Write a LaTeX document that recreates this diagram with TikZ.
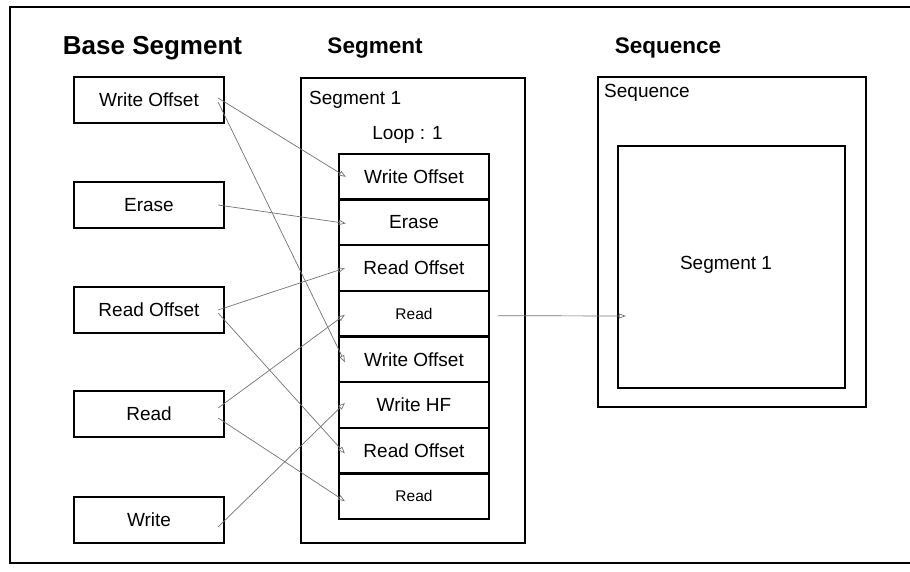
\documentclass[tikz,border=0pt]{standalone}
\usepackage{fontspec}
\setmainfont{Liberation Sans}
\usetikzlibrary{arrows.meta,calc}
\begin{document}
\begin{tikzpicture}[x=1pt,y=-1pt,
  box/.style={draw=black,line width=2.2pt,minimum width=150pt,minimum height=46pt,inner sep=0pt,font=\fontsize{19}{22}\selectfont},
  row/.style={draw=black,line width=2.2pt,minimum width=150pt,minimum height=45.6pt,inner sep=0pt,font=\fontsize{19}{22}\selectfont},
  smalltext/.style={font=\fontsize{15.5}{18}\selectfont},
  container/.style={draw=black,line width=2.2pt,inner sep=0pt},
  title/.style={font=\bfseries\fontsize{22.5}{26}\selectfont,inner sep=0pt},
  lbl/.style={font=\fontsize{19}{22}\selectfont,inner sep=0pt},
  conn/.style={draw=black!55,line width=0.7pt,-{Triangle[open,length=7pt,width=5pt]}}
]
\useasboundingbox[fill=white] (0,0) rectangle (910,572);
% outer frame (open on the right)
\draw[line width=2.2pt] (910,7) -- (10,7) -- (10,563) -- (910,563);

% titles
\node[title,font=\bfseries\fontsize{26}{30}\selectfont] (t1) at (152.5,48) {Base Segment};
\node[title] (t2) at (375,48) {Segment};
\node[title] (t3) at (668,48) {Sequence};

% base segment boxes
\node[box] (lwo) at (149,100) {Write Offset};
\node[box] (ler) at (149,205) {Erase};
\node[box] (lro) at (149,310) {Read Offset};
\node[box] (lrd) at (149,414) {Read};
\node[box] (lwr) at (149,520) {Write};

% segment container
\node[container,minimum width=224pt,minimum height=465pt] (seg) at (413,310.5) {};
\node[lbl,anchor=west] (seglbl) at (309,100) {Segment 1};
\node[lbl] (loop) at (407.5,135) {Loop : 1};

% rows
\node[row] (r1) at (414,176.8) {Write Offset};
\node[row] (r2) at (414,222.4) {Erase};
\node[row] (r3) at (414,268.1) {Read Offset};
\node[row,smalltext] (r4) at (414,313.7) {Read};
\node[row] (r5) at (414,359.3) {Write Offset};
\node[row] (r6) at (414,404.9) {Write HF};
\node[row] (r7) at (414,450.5) {Read Offset};
\node[row,smalltext] (r8) at (414,496.2) {Read};

% sequence
\node[container,minimum width=268pt,minimum height=330pt] (seq) at (732,242) {};
\node[lbl,anchor=west] (seqlbl) at (604,93) {Sequence};
\node[container,minimum width=227pt,minimum height=242pt] (seqin) at (731.5,267) {};
\node[lbl] (seqseg) at (726,265) {Segment 1};

% connectors
\draw[conn] ($(lwo.east)+(-7,-2)$) -- ($(r1.west)+(8,0)$);
\draw[conn] ($(lwo.east)+(-7,2)$) -- ($(r5.west)+(7,3)$);
\draw[conn] ($(ler.east)+(-7,0)$) -- ($(r2.west)+(8,1)$);
\draw[conn] ($(lro.east)+(-7,0)$) -- ($(r3.west)+(7,0)$);
\draw[conn] ($(lro.east)+(-7,3)$) -- ($(r7.west)+(7,3)$);
\draw[conn] ($(lrd.east)+(-7,-6)$) -- ($(r4.west)+(7,1)$);
\draw[conn] ($(lrd.east)+(-7,4)$) -- ($(r8.west)+(7,5)$);
\draw[conn] ($(lwr.east)+(-7,7)$) -- ($(r6.west)+(7,-2)$);
\draw[conn] ($(r4.east)+(8,2)$) -- ($(seqin.west)+(9,49)$);
\end{tikzpicture}
\end{document}
